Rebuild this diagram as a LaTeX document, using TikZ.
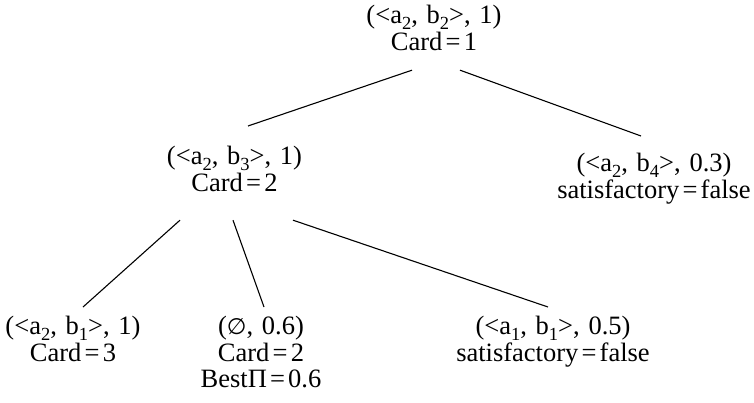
\documentclass[tikz,border=0pt]{standalone}
\usepackage{fontspec}
\setmainfont{Liberation Serif}
\newfontfamily\symfont{DejaVu Sans}
\usetikzlibrary{calc}
\newcommand{\eqs}{\kern0.12em=\kern0.12em}
\newcommand{\sbs}[1]{\lower0.22em\hbox{\fontsize{18.5}{18.5}\selectfont #1}}
\newcommand{\nodefnt}{\fontsize{26.5}{24}\selectfont}
\newcommand{\wsp}{\hspace{0.33em}}
\begin{document}
\begin{tikzpicture}[x=1pt,y=-1pt,
  tnode/.style={anchor=north,inner sep=0pt,outer sep=0pt,align=center,
    font=\nodefnt},
  edge/.style={draw=black,line width=1.1pt}]
\useasboundingbox (0,0) rectangle (754,402);
\node[tnode] (root) at (434,5.2) {\strut(<a\sbs{2},\wsp b\sbs{2}>,\wsp 1)\\\strut Card\eqs 1};
\node[tnode] (b3) at (234.5,146.2) {\strut(<a\sbs{2},\wsp b\sbs{3}>,\wsp 1)\\\strut Card\eqs 2};
\node[tnode] (b4) at (654,153.2) {\strut(<a\sbs{2},\wsp b\sbs{4}>,\wsp 0.3)\\\strut satisfactory\eqs false};
\node[tnode] (b1) at (73,316.2) {\strut(<a\sbs{2},\wsp b\sbs{1}>,\wsp 1)\\\strut Card\eqs 3};
\node[tnode] (emp) at (261,316.2) {\strut({\symfont\fontsize{22.5}{24}\selectfont ∅},\wsp 0.6)\\\strut Card\eqs 2\\\strut BestΠ\eqs 0.6};
\node[tnode] (a1b1) at (553,316.2) {\strut(<a\sbs{1},\wsp b\sbs{1}>,\wsp 0.5)\\\strut satisfactory\eqs false};
\draw[edge] ($(root.south)+(-22,12.8)$) -- ($(b3.north)+(13.5,-20.2)$);
\draw[edge] ($(root.south)+(26,12.8)$) -- ($(b4.north)+(-13,-17.2)$);
\draw[edge] ($(b3.south)+(-54.5,21.8)$) -- ($(b1.north)+(10,-9.2)$);
\draw[edge] ($(b3.south)+(-1.5,21.8)$) -- ($(emp.north)+(3,-9.2)$);
\draw[edge] ($(b3.south)+(58.5,21.8)$) -- ($(a1b1.north)+(-5,-9.2)$);
\end{tikzpicture}
\end{document}
